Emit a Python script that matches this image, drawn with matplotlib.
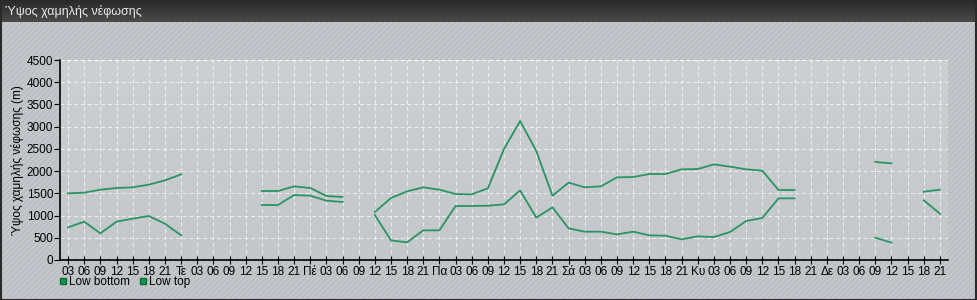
import numpy as np
import matplotlib.pyplot as plt
from matplotlib.patches import Rectangle
from matplotlib.lines import Line2D
from matplotlib.colors import LinearSegmentedColormap

nan = np.nan

hours = ['03', '06', '09', '12', '15', '18', '21']
days = ['Τε', 'Πέ', 'Πα', 'Σά', 'Κυ', 'Δε']

low_top = [1500, 1515, 1582, 1620, 1635, 1695, 1792, 1927,
           nan, nan, nan, nan,
           1552, 1552, 1657, 1620, 1440, 1417,
           nan,
           1080, 1395, 1545, 1635, 1582, 1485, 1477, 1612, 2497, 3127, 2452, 1447,
           1740, 1635, 1657, 1860, 1867, 1935, 1935, 2040, 2047, 2152, 2100, 2040,
           2010, 1575, 1575,
           nan, nan, nan, nan,
           2205, 2175,
           nan,
           1537, 1582]

low_bottom = [735, 862, 600, 862, 930, 990, 817, 555,
              nan, nan, nan, nan,
              1237, 1237, 1462, 1447, 1335, 1305,
              nan,
              1012, 442, 397, 667, 667, 1215, 1215, 1222, 1252, 1567, 952, 1185,
              712, 637, 637, 577, 637, 555, 547, 465, 532, 517, 630, 877,
              945, 1387, 1387,
              nan, nan, nan, nan,
              502, 390,
              nan,
              1342, 1042]

labels = list(hours)
for d in days:
    labels += [d] + hours

x = np.arange(len(labels))
line_color = '#2a9462'

plt.rcParams['font.family'] = ['Liberation Sans', 'DejaVu Sans']
plt.rcParams['hatch.linewidth'] = 0.6

W, H = 978, 300
fig = plt.figure(figsize=(W / 100, H / 100), dpi=100)
fig.patch.set_facecolor('#c3c7cb')

# striped background
fig.patches.append(Rectangle((0, 0), 1, 1, transform=fig.transFigure,
                             facecolor='none', edgecolor='#b3b8bf',
                             hatch='//////', linewidth=0, zorder=-1))

# title bar
grad = np.linspace(0, 1, 50).reshape(-1, 1)
tax = fig.add_axes([0, 1 - 22 / H, 1, 22 / H], zorder=5)
tax.imshow(grad, cmap=LinearSegmentedColormap.from_list('tb', ['#2a2a2a', '#4a4a4a']),
           aspect='auto', extent=[0, 1, 0, 1], origin='upper')
tax.set_axis_off()
tax.text(5 / W, 0.5, 'Ύψος χαμηλής νέφωσης', color='#eaeaea', fontsize=9,
         va='center', ha='left', transform=tax.transAxes)

# outer border
fig.patches.append(Rectangle((0.5 / W, 0.5 / H), 1 - 2 / W, 1 - 1.5 / H,
                             transform=fig.transFigure, facecolor='none',
                             edgecolor='#2a2a2a', linewidth=1.5, zorder=10))

ax = fig.add_axes([60 / W, 40 / H, 888 / W, 200 / H])
ax.set_facecolor('none')
bg = np.linspace(0, 1, 50).reshape(-1, 1)
ax.imshow(bg, cmap=LinearSegmentedColormap.from_list('pa', ['#d2d5d8', '#c6cacd']),
          aspect='auto', extent=[0, 1, 0, 1], transform=ax.transAxes,
          zorder=0, alpha=0.7, origin='upper')

ax.plot(x, low_bottom, color=line_color, lw=1.3, zorder=3)
ax.plot(x, low_top, color=line_color, lw=1.3, zorder=3)

ax.set_xlim(-0.5, len(labels) - 0.5)
ax.set_ylim(0, 4500)
ax.set_yticks(np.arange(0, 4501, 500))
ax.set_xticks(x)
ax.set_xticklabels(labels)
ax.tick_params(axis='x', direction='inout', length=6, labelsize=8.5, pad=1, colors='black')
ax.tick_params(axis='y', direction='out', length=4, labelsize=8.5, pad=1)

dash = (0, (4, 3))
ax.grid(True, color='white', linestyle=dash, linewidth=0.7, alpha=0.7)
ax.axhline(4500, color='white', linestyle=dash, linewidth=0.7, alpha=0.7)
ax.axvline(len(labels) - 0.5, color='white', linestyle=dash, linewidth=0.7, alpha=0.7)
ax.set_axisbelow(True)
for s in ['top', 'right']:
    ax.spines[s].set_visible(False)
for s in ['left', 'bottom']:
    ax.spines[s].set_linewidth(1.2)

ax.set_ylabel('Ύψος χαμηλής νέφωσης (m)', fontsize=8.5, labelpad=1.5)

sq = dict(marker='s', color='none', markerfacecolor='#14924a',
          markeredgecolor='#0d6b35', markersize=5)
handles = [Line2D([], [], label='Low bottom', **sq),
           Line2D([], [], label='Low top', **sq)]
fig.legend(handles=handles, loc='center left', bbox_to_anchor=(54 / W, 1 - 282 / H),
           ncol=2, frameon=False, fontsize=8.5, handlelength=0.6, handletextpad=0.2,
           columnspacing=0.8, borderpad=0)

fig.savefig('out.png', dpi=100)
